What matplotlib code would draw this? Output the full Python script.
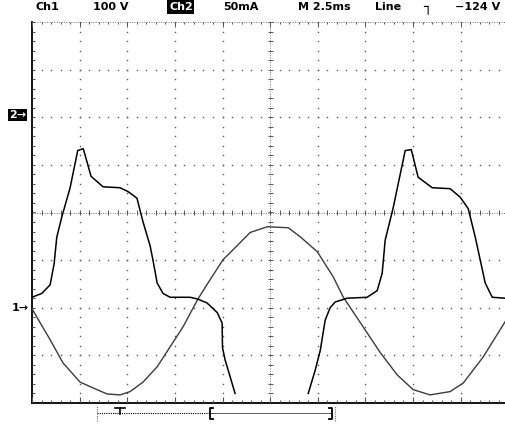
import numpy as np
import matplotlib.pyplot as plt

# scope settings (from the header line)
t_per_div = 2.5      # ms/div
ch1_per_div = 100.0  # V/div
ch2_per_div = 50.0   # mA/div
ch1_pos = -2.0       # ground marker position, divisions
ch2_pos = 2.0

# CH1 voltage
t1 = [0.0, 0.42, 0.95, 1.63, 2.52, 3.41, 3.94, 4.62, 5.15, 5.83, 6.57, 7.25,
      7.93, 8.72, 9.35, 10.03, 10.56, 11.45, 12.35, 13.45, 14.08, 14.97,
      15.81, 16.33, 17.23, 18.28, 19.17, 20.01, 20.90, 21.95, 22.64, 23.69,
      24.84]
v1 = [-2, -31, -67, -116, -156, -172, -181, -183, -176, -156, -124, -82,
      -40, 19, 59, 101, 122, 158, 170, 168, 149, 118,
      65, 23, -31, -94, -141, -172, -183, -176, -158, -103,
      -29]

# CH2 current (goes off the bottom of the screen in the middle)
t2 = [0.0, 0.51, 0.95, 1.16, 1.30, 1.56, 2.00, 2.40, 2.69, 3.10, 3.73, 4.62,
      5.04, 5.51, 5.83, 6.20, 6.35, 6.57, 6.88, 7.25, 8.30, 8.72, 9.19, 9.72,
      9.98, 10.00, 10.14, 10.35, 10.66,
      np.nan,
      14.50, 14.86, 15.13, 15.39, 15.65, 15.91, 16.54, 17.59, 18.12, 18.38,
      18.54, 18.96, 19.59, 19.91, 20.27, 21.01, 21.95, 22.48, 22.90, 23.27,
      23.53, 23.79, 24.16, 24.84]
i2 = [-189, -185, -176, -154, -126, -105, -74, -35, -33, -62, -73, -74,
      -78, -85, -110, -135, -150, -174, -185, -189, -189, -191, -195, -205,
      -216, -242, -255, -269, -290,
      np.nan,
      -290, -266, -245, -213, -200, -194, -190, -189, -182, -164,
      -129, -95, -35, -34, -63, -74, -75, -84, -96, -126,
      -150, -174, -189, -190]

W, H = 505, 425
L, B, T = 32, 22, 22   # screen edges in pixels
div_px = (H - B - T) / 8

fig = plt.figure(figsize=(W / 100, H / 100), dpi=100)
ax = fig.add_axes([L / W, B / H, (W - L) / W, (H - B - T) / H])
x_max = (W - L) / div_px
ax.set_xlim(0, x_max)
ax.set_ylim(-4, 4)
ax.axis('off')

grid_c = '#555555'
sub_x = np.arange(0, 10.01, 0.2)
sub_y = np.arange(-4, 4.01, 0.2)

# dotted graticule
for gx in range(1, 10):
    if gx != 5:
        ax.plot(np.full_like(sub_y, gx), sub_y, ls='none', marker='s',
                ms=1.0, mew=0, color=grid_c)
for gy in range(-3, 4):
    if gy != 0:
        ax.plot(sub_x, np.full_like(sub_x, gy), ls='none', marker='s',
                ms=1.0, mew=0, color=grid_c)

# centre lines with minor ticks
ax.axhline(0, color='#777777', lw=0.7, ls=(0, (1, 1.5)))
ax.axvline(5, color='#777777', lw=0.7, ls=(0, (1, 1.5)))
ax.vlines(sub_x, -0.05, 0.05, color=grid_c, lw=0.7)
ax.hlines(sub_y, 5 - 0.05, 5 + 0.05, color=grid_c, lw=0.7)

# frame: solid left and bottom, dotted top
ax.plot([0, 0], [-4, 4], color='black', lw=1.3, clip_on=False)
ax.plot([0, x_max], [-4, -4], color='black', lw=1.3, clip_on=False)
ax.plot([0, x_max], [4, 4], color='#777777', lw=0.7, ls=(0, (1, 1.5)),
        clip_on=False)
ax.vlines(sub_x, -4, -3.94, color=grid_c, lw=0.8)
ax.vlines(np.arange(0, 11), -4, -3.88, color=grid_c, lw=0.8)
ax.vlines(sub_x, 3.95, 4, color=grid_c, lw=0.7)
ax.vlines(np.arange(0, 11), 3.9, 4, color=grid_c, lw=0.7)
ax.hlines(sub_y, 0, 0.06, color=grid_c, lw=0.8)

# traces
ax.plot(np.array(t1) / t_per_div, np.array(v1) / ch1_per_div + ch1_pos,
        color='#3c3c3c', lw=1.0)
ax.plot(np.array(t2) / t_per_div, np.array(i2) / ch2_per_div + ch2_pos,
        color='black', lw=1.1)

# header line
font = dict(family='DejaVu Sans', weight='bold', size=8, va='center')
hy = 1 - 7 / H
fig.text(35 / W, hy, 'Ch1', **font)
fig.text(93 / W, hy, '100 V', **font)
fig.text(169 / W, hy, 'Ch2', color='white',
         bbox=dict(facecolor='black', edgecolor='none', pad=1.2), **font)
fig.text(223 / W, hy, '50mA', **font)
fig.text(298 / W, hy, 'M 2.5ms', **font)
fig.text(375 / W, hy, 'Line', **font)
fig.text(423 / W, hy, '\u2510', family='DejaVu Sans', size=10, va='center')
fig.text(455 / W, hy, '\u2212124 V', **font)

# channel ground markers
fig.text(9 / W, 1 - 115 / H, '2\u2192', color='white',
         bbox=dict(facecolor='black', edgecolor='none', pad=0.8), **font)
fig.text(12 / W, 1 - 308 / H, '1\u2192', **font)

# record position bar under the screen
bar_y = -4.22
rec_l, trig, win_l, win_r, rec_r = 1.36, 1.85, 3.74, 6.30, 6.37
ax.plot([rec_l, win_l], [bar_y, bar_y], color='black', lw=0.8,
        ls=(0, (1, 1)), clip_on=False)
ax.plot([win_l, win_r], [bar_y, bar_y], color='#444444', lw=0.6,
        clip_on=False)
for xe in (rec_l, rec_r):
    ax.plot([xe, xe], [bar_y - 0.15, bar_y + 0.15], color='#777777', lw=0.8,
            ls=(0, (1, 1)), clip_on=False)
ax.plot([trig, trig], [bar_y - 0.02, bar_y + 0.12], color='black', lw=1.2,
        clip_on=False)
ax.plot([trig - 0.1, trig + 0.1], [bar_y + 0.12, bar_y + 0.12], color='black',
        lw=1.2, clip_on=False)
for xe, d in ((win_l, 1), (win_r, -1)):
    ax.plot([xe + d * 0.06, xe, xe, xe + d * 0.06],
            [bar_y + 0.12, bar_y + 0.12, bar_y - 0.12, bar_y - 0.12],
            color='black', lw=1.3, clip_on=False)

fig.savefig('out.png', dpi=100, facecolor='white')
